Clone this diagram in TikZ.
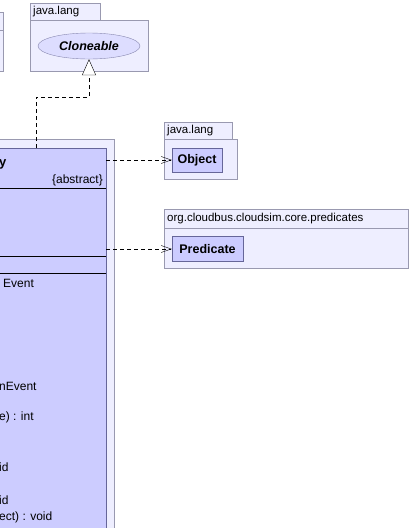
\documentclass[tikz,border=0pt]{standalone}
\usepackage{fontspec}
\setmainfont{Liberation Sans}
\usetikzlibrary{arrows.meta,shapes.geometric}

\definecolor{pkgfill}{RGB}{238,238,255}
\definecolor{pkgline}{RGB}{153,153,176}
\definecolor{clsfill}{RGB}{204,204,255}
\definecolor{clsline}{RGB}{102,102,153}
\definecolor{ifcfill}{RGB}{221,221,255}
\definecolor{ifcline}{RGB}{136,136,176}

\begin{document}
\begin{tikzpicture}[x=1pt, y=-1pt, font=\fontsize{12}{14}\selectfont,
		pkg/.style={draw=pkgline, fill=pkgfill, inner sep=0pt},
		pkgname/.style={anchor=west, inner sep=3pt, font=\fontsize{11.5}{14}\selectfont},
		cls/.style={draw=clsline, fill=clsfill, inner sep=0pt, font=\fontsize{12.5}{14}\selectfont\bfseries},
		iface/.style={ellipse, draw=ifcline, fill=ifcfill, inner sep=0pt, font=\fontsize{12.5}{14}\selectfont\bfseries\itshape},
		member/.style={anchor=west, inner sep=0pt},
		depend/.style={dash pattern=on 4pt off 3pt, -{Straight Barb[length=10pt, width=7pt]}},
		realize/.style={dash pattern=on 4pt off 3pt, -{Triangle[length=16pt, width=14pt, fill=white]}}]
	\useasboundingbox (0,0) rectangle (411,528);
	\clip (0,0) rectangle (411,528);

	% package cut off at the left
	\node[pkg, anchor=north east, minimum width=30pt, minimum height=18pt] (lefttab) at (3,12) {};
	\node[pkg, anchor=north east, minimum width=30pt, minimum height=41pt] (leftpkg) at (3,30) {};

	% java.lang : Cloneable
	\node[pkg, anchor=north west, minimum width=70pt, minimum height=17pt] (clonetab) at (30,3) {};
	\node[pkgname] (clonename) at (clonetab.west) {java.lang};
	\node[pkg, anchor=north west, minimum width=118pt, minimum height=51pt] (clonepkg) at (30,20) {};
	\node[iface, minimum width=102pt, minimum height=26pt] (cloneable) at (89,46) {Cloneable};

	% java.lang : Object
	\node[pkg, anchor=north west, minimum width=68pt, minimum height=17pt] (objtab) at (164,122) {};
	\node[pkgname] (objname) at (objtab.west) {java.lang};
	\node[pkg, anchor=north west, minimum width=73pt, minimum height=40pt] (objpkg) at (164,139) {};
	\node[cls, minimum width=50pt, minimum height=24pt] (object) at (197,160) {Object};

	% predicates package
	\node[pkg, anchor=north west, minimum width=244pt, minimum height=19pt] (predtab) at (164,209) {};
	\node[pkgname] (predname) at (predtab.west) {org.cloudbus.cloudsim.core.predicates};
	\node[pkg, anchor=north west, minimum width=244pt, minimum height=40pt] (predpkg) at (164,228) {};
	\node[cls, minimum width=71pt, minimum height=25pt] (predicate) at (207.5,249) {Predicate};

	% the abstract class
	\node[pkg, anchor=north east, minimum width=170pt, minimum height=400pt] (entitypkg) at (114,139) {};
	\node[cls, anchor=north east, minimum width=160pt, minimum height=390pt] (entity) at (106,148) {};
	\node[member, font=\fontsize{13}{14}\selectfont\bfseries] (title) at (-1,164) {y};
	\node[member, anchor=east] (abstract) at (103,180) {\{abstract\}};
	\draw (-60,188) -- (106,188);
	\draw (-60,256) -- (106,256);
	\draw (-60,273) -- (106,273);
	\node[member] (m1) at (3,283) {Event};
	\node[member] (m2) at (-1,386) {nEvent};
	\node[member] (m3) at (-1,417) {e) : int};
	\node[member] (m4) at (-1,467) {id};
	\node[member] (m5) at (-1,500) {id};
	\node[member] (m6) at (-1,517) {ect) : void};

	% connectors
	\coordinate (gen) at (36,148);
	\draw[realize] (gen) -- ++(0,-51) -| (cloneable.south);
	\draw[depend] (object.west -| entity.east) -- (object.west);
	\draw[depend] (predicate.west -| entity.east) -- (predicate.west);
\end{tikzpicture}
\end{document}
